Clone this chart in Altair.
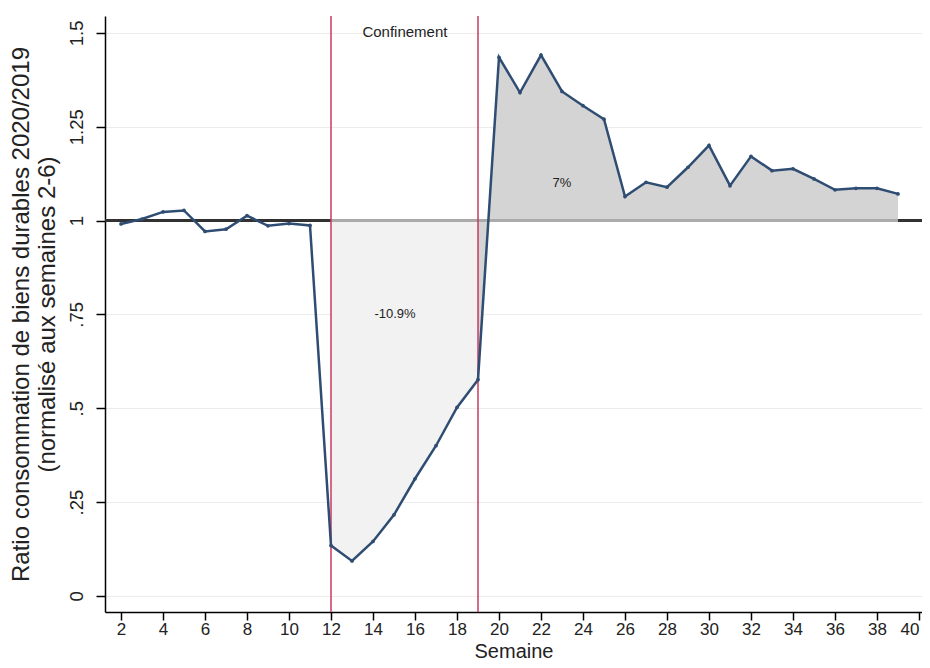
import altair as alt
import pandas as pd

weeks = list(range(2, 40))
ratio = [
    0.991, 1.004, 1.023, 1.027, 0.971, 0.977, 1.013, 0.986, 0.992, 0.987,
    0.134, 0.093, 0.145, 0.216, 0.312, 0.400, 0.502, 0.576,
    1.435, 1.341, 1.441, 1.344, 1.306, 1.270, 1.064, 1.102, 1.089, 1.142,
    1.200, 1.093, 1.171, 1.133, 1.138, 1.111, 1.082, 1.086, 1.086, 1.071,
]
confinement_weeks = [12, 19]
x_ticks = list(range(2, 41, 2))
y_ticks = [0, 0.25, 0.5, 0.75, 1, 1.25, 1.5]

notes = pd.DataFrame({
    "week": [15.52, 15.05, 23.0],
    "ratio": [1.502, 0.751, 1.100],
    "label": ["Confinement", "-10.9%", "7%"],
    "size": [15, 13, 13],
})

df = pd.DataFrame({"week": weeks, "ratio": ratio})
during = df[(df.week >= 12) & (df.week <= 19)]
after = df[df.week >= 19]

W, H = 817, 596
FONT = "Liberation Sans, Arial, sans-serif"

x_scale = alt.Scale(domain=[1.238, 1.238 + W / 21], nice=False, zero=False)
y_scale = alt.Scale(domain=[-0.043, 1.545], nice=False, zero=False)

x_enc = alt.X(
    "week:Q", scale=x_scale, title="Semaine",
    axis=alt.Axis(values=x_ticks, grid=False, tickSize=8, tickColor="black",
                  domainColor="black", domainWidth=1.5, tickWidth=1.5,
                  labelFont=FONT, labelFontSize=17, labelColor="#222",
                  labelPadding=1, labelFlush=5,
                  titleFont=FONT, titleFontSize=20, titleFontWeight="normal",
                  titleColor="#222", titleBaseline="alphabetic", titleY=45),
)
y_enc = alt.Y(
    "ratio:Q", scale=y_scale,
    title=["Ratio consommation de biens durables 2020/2019", "(normalisé aux semaines 2-6)"],
    axis=alt.Axis(values=y_ticks, grid=True, gridColor="#ececec", gridWidth=1,
                  tickSize=9, tickColor="black", tickWidth=1.5,
                  domainColor="black", domainWidth=1.5,
                  labelAngle=270, labelAlign="center", labelBaseline="bottom",
                  labelFont=FONT, labelFontSize=18.5, labelColor="#222", labelPadding=10,
                  labelExpr="datum.value == 0 ? '0' : (datum.value < 1 ? slice(format(datum.value, '~g'), 1) : format(datum.value, '~g'))",
                  titleFont=FONT, titleFontSize=24, titleFontWeight="normal",
                  titleColor="#222", titlePadding=8, titleLineHeight=26),
)

base = alt.Chart(df)

baseline = base.mark_rule(color="#333", strokeWidth=1.5).encode(
    x=alt.value(0), x2=alt.value(W), y=alt.datum(1, scale=y_scale)
)

area_during = alt.Chart(during).mark_area(color="#f2f2f2", opacity=1).encode(
    x=x_enc, y=y_enc, y2=alt.datum(1)
)
area_after = alt.Chart(after).mark_area(color="#d4d4d4", opacity=1).encode(
    x=x_enc, y=y_enc, y2=alt.datum(1)
)

grey_base = base.mark_rule(color="#ababab", strokeWidth=1.8).encode(
    x=alt.datum(12, scale=x_scale), x2=alt.datum(39), y=alt.datum(1, scale=y_scale)
)

red = alt.Chart(pd.DataFrame({"week": confinement_weeks})).mark_rule(
    color="#c83a62", strokeWidth=1.5
).encode(x=alt.X("week:Q", scale=x_scale))

line = base.mark_line(color="#2f4d73", strokeWidth=2.5).encode(x=x_enc, y=y_enc)
pts = base.mark_circle(color="#2f4d73", size=14, opacity=1).encode(x=x_enc, y=y_enc)

text = alt.Chart(notes).mark_text(font=FONT, color="#222").encode(
    x=alt.X("week:Q", scale=x_scale),
    y=alt.Y("ratio:Q", scale=y_scale),
    text="label:N",
    size=alt.Size("size:Q", scale=None, legend=None),
)

chart = (
    alt.layer(area_during, area_after, baseline, grey_base, red, line, pts, text)
    .properties(
        width=W, height=H,
        autosize=alt.AutoSizeParams(type="none"),
        padding={"left": 97, "top": 8, "right": 0, "bottom": 48},
    )
    .configure_view(stroke=None)
)

chart.save("out.html", embed_options={"renderer": "svg", "actions": False})
